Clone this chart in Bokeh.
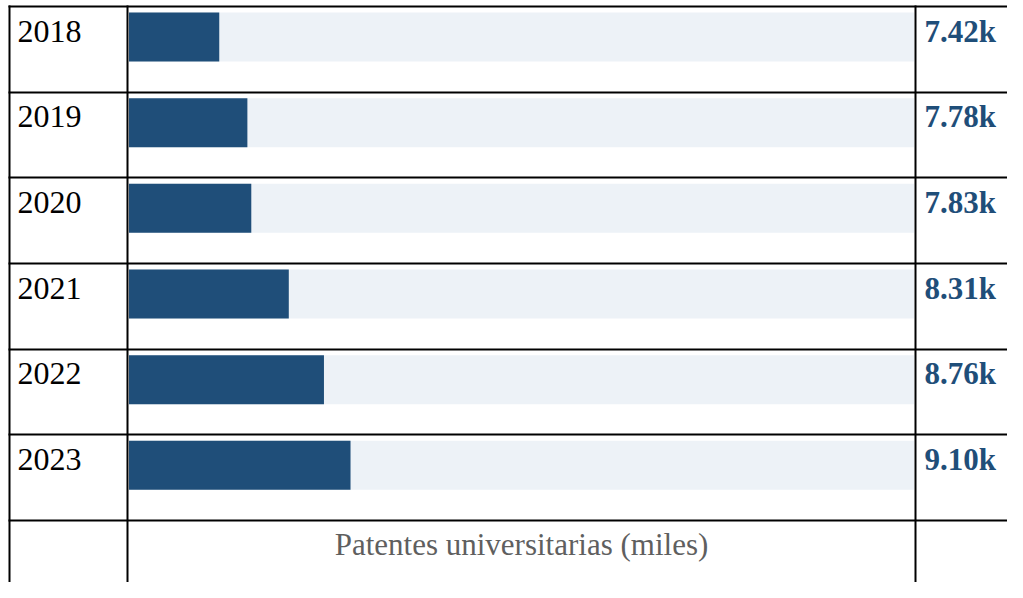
from bokeh.plotting import figure
from bokeh.models import Range1d
from bokeh.core.properties import value
from bokeh.embed import file_html
from bokeh.resources import INLINE

# ---- data ----
years = ["2018", "2019", "2020", "2021", "2022", "2023"]
patents = [7.42, 7.78, 7.83, 8.31, 8.76, 9.10]   # thousands
value_labels = ["7.42k", "7.78k", "7.83k", "8.31k", "8.76k", "9.10k"]
axis_title = "Patentes universitarias (miles)"

# ---- layout constants (canvas pixels) ----
W, H = 1007, 582
ROW_H = 85.67
ROW0 = 6.0
COL0, COL1, COL2 = 9, 127, 915
TRACK_X0, TRACK_X1 = 128.5, 913.5
VAL_LO, PX_PER_UNIT = 6.265, 78.14   # value at track start, px per thousand
TEXT_SHIFT = 13                      # compensation for svg text baseline

BAR_COLOR = "#1f4e79"
TRACK_COLOR = "#edf2f7"

p = figure(width=W, height=H, output_backend="svg", toolbar_location=None,
           x_range=Range1d(0, W), y_range=Range1d(H, 0),
           min_border=0, outline_line_color=None,
           x_axis_location=None, y_axis_location=None)
p.grid.visible = False

# value scale, and row scale
p.extra_x_ranges = {"val": Range1d(VAL_LO - TRACK_X0 / PX_PER_UNIT,
                                   VAL_LO + (W - TRACK_X0) / PX_PER_UNIT)}
p.extra_y_ranges = {"row": Range1d((H - ROW0) / ROW_H, (0 - ROW0) / ROW_H)}

n = len(years)
rows = list(range(n))
bar_center = [r + 30.5 / ROW_H for r in rows]
bar_h = 49 / ROW_H
val_hi = VAL_LO + (TRACK_X1 - TRACK_X0) / PX_PER_UNIT

# tracks
p.hbar(y=bar_center, height=bar_h, left=VAL_LO, right=val_hi,
       color=TRACK_COLOR, line_color=None, x_range_name="val", y_range_name="row")
# bars
p.hbar(y=bar_center, height=bar_h, left=VAL_LO, right=patents,
       color=BAR_COLOR, line_color=None, x_range_name="val", y_range_name="row")

# table lines
hy = [round(ROW0 + ROW_H * i) for i in range(n + 1)]
p.segment(x0=[8] * len(hy), x1=[W] * len(hy), y0=hy, y1=hy,
          line_color="black", line_width=2)
vx = [COL0, COL1, COL2]
p.segment(x0=vx, x1=vx, y0=[ROW0 - 1] * 3, y1=[H] * 3,
          line_color="black", line_width=2)

text_y = [r + (37.5 - TEXT_SHIFT) / ROW_H for r in rows]
p.text(x=[17] * n, y=text_y, text=years, y_range_name="row",
       text_font=value("Liberation Serif"), text_font_size="32px",
       text_color="black", text_baseline="alphabetic", text_align="left")
p.text(x=[924] * n, y=text_y, text=value_labels, y_range_name="row",
       text_font=value("Liberation Serif"), text_font_size="31px",
       text_font_style="bold", text_color=BAR_COLOR,
       text_baseline="alphabetic", text_align="left")
p.text(x=[(COL1 + COL2) / 2], y=[n + (37 - TEXT_SHIFT) / ROW_H], text=[axis_title],
       y_range_name="row",
       text_font=value("Liberation Serif"), text_font_size="31px",
       text_color="#5f5f5f", text_baseline="alphabetic", text_align="center")

open("out.html", "w").write(file_html(p, INLINE))
